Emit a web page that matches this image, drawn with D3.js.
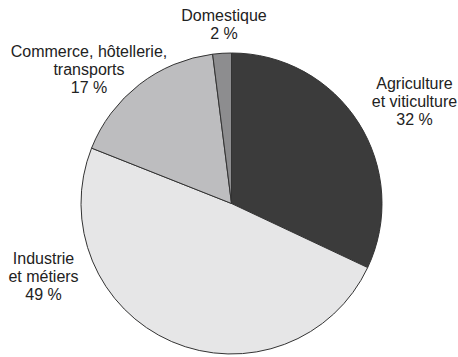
<!DOCTYPE html>
<html>
<head>
<meta charset="utf-8">
<script src="https://cdn.jsdelivr.net/npm/d3@7"></script>
<style>
  body { margin: 0; background: #fff; }
  svg text { font-family: "Liberation Sans", Arial, sans-serif; font-size: 16px; fill: #222; }
</style>
</head>
<body>
<svg id="chart"></svg>
<script>
const width = 458;
const height = 357;

// data
const categories = ["Agriculture et viticulture", "Industrie et métiers", "Commerce, hôtellerie, transports", "Domestique"];
const values = [32, 49, 17, 2];
const labelLines = [
  ["Agriculture", "et viticulture", "32 %"],
  ["Industrie", "et métiers", "49 %"],
  ["Commerce, hôtellerie,", "transports", "17 %"],
  ["Domestique", "2 %"]
];
const colors = ["#3b3b3b", "#e6e6e7", "#bdbdbf", "#8d8d8f"];

// layout
const cx = 231.5, cy = 203.5, radius = 150.5;
const labelPos = [[414.5, 88.5], [43.5, 264], [89, 56.7], [224, 20.5]];
const lineHeight = 18.2;

const svg = d3.select("#chart")
    .attr("width", width)
    .attr("height", height);

const color = d3.scaleOrdinal()
    .domain(categories)
    .range(colors);

const pieGen = d3.pie()
    .value(d => d.value)
    .sort(null);

const arcs = pieGen(categories.map((c, i) => ({ name: c, value: values[i] })));

const arcGen = d3.arc()
    .innerRadius(0)
    .outerRadius(radius);

svg.append("g")
    .attr("transform", `translate(${cx},${cy})`)
    .selectAll("path")
    .data(arcs)
    .enter()
    .append("path")
        .attr("d", arcGen)
        .attr("fill", d => color(d.data.name))
        .attr("stroke", "#333")
        .attr("stroke-width", 1);

// labels
const labels = svg.append("g")
    .selectAll("text")
    .data(labelLines)
    .enter()
    .append("text")
        .attr("text-anchor", "middle")
        .attr("x", (d, i) => labelPos[i][0])
        .attr("y", (d, i) => labelPos[i][1]);

labels.selectAll("tspan")
    .data((d, i) => d.map(t => ({ t, x: labelPos[i][0] })))
    .enter()
    .append("tspan")
        .attr("x", d => d.x)
        .attr("dy", (d, j) => j === 0 ? 0 : lineHeight)
        .text(d => d.t);
</script>
</body>
</html>
